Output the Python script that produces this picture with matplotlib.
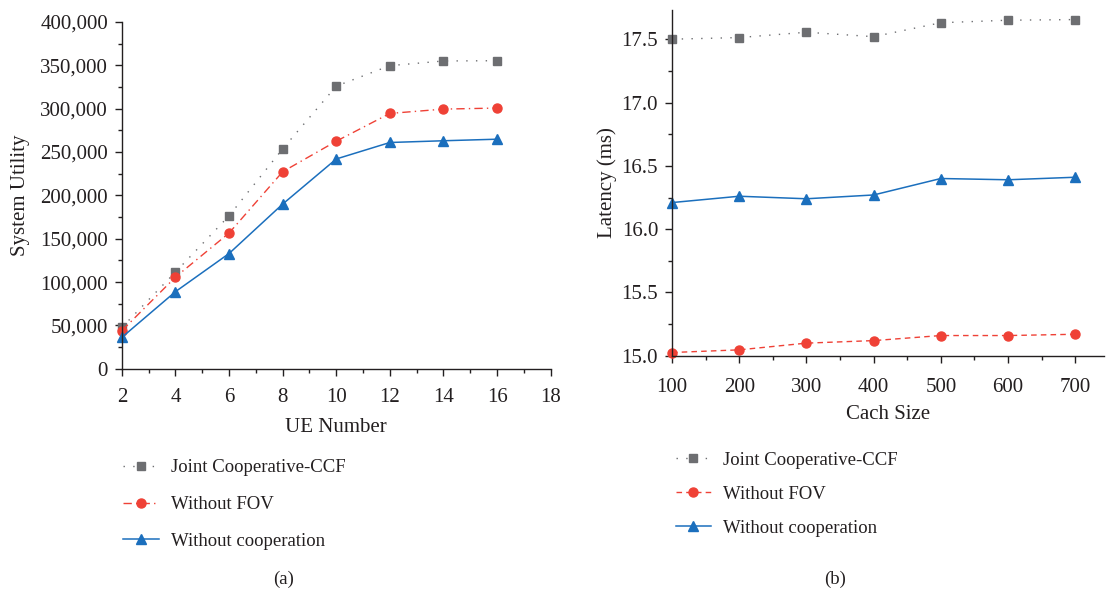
import matplotlib
matplotlib.use("Agg")
import matplotlib.pyplot as plt
from matplotlib.ticker import MultipleLocator, FuncFormatter

plt.rcParams['font.family'] = ['Liberation Serif', 'DejaVu Serif']

# Data (a)
ue_number = [2, 4, 6, 8, 10, 12, 14, 16]
util_joint = [47800, 111600, 176500, 253700, 326000, 349600, 355000, 355300]
util_nofov = [44000, 105800, 156600, 227300, 262500, 294500, 299500, 300700]
util_nocoop = [36300, 89000, 133000, 190000, 242000, 261000, 263000, 264800]

# Data (b)
cache_size = [100, 200, 300, 400, 500, 600, 700]
lat_joint = [17.50, 17.513, 17.555, 17.52, 17.63, 17.65, 17.655]
lat_nofov = [15.026, 15.047, 15.10, 15.12, 15.16, 15.16, 15.17]
lat_nocoop = [16.21, 16.26, 16.24, 16.27, 16.40, 16.39, 16.41]

labels = ["Joint Cooperative-CCF", "Without FOV", "Without cooperation"]

GRAY = "#6d6e71"
RED = "#ef4136"
BLUE = "#1b6fbd"
TXT = "#231f20"

TICK_FS = 15
LABEL_FS = 15
LEG_FS = 13.5

fig = plt.figure(figsize=(11.08, 5.93), dpi=100)

def style(ax, xpad):
    for s in ("top", "right"):
        ax.spines[s].set_visible(False)
    for s in ("left", "bottom"):
        ax.spines[s].set_color(TXT)
        ax.spines[s].set_linewidth(1.0)
    ax.tick_params(which="major", direction="out", length=5, width=1, colors=TXT, labelsize=TICK_FS, pad=5)
    ax.tick_params(axis="x", which="major", pad=xpad)
    ax.tick_params(which="minor", direction="out", length=3, width=1, colors=TXT)

# (a)
ax1 = fig.add_axes([0.110, 0.378, 0.387, 0.585])
l1, = ax1.plot(ue_number, util_joint, color=GRAY, ls=(0, (1, 6)), lw=1.0, marker="s", ms=6.3, mec=GRAY, mfc=GRAY)
l2, = ax1.plot(ue_number, util_nofov, color=RED, ls=(0, (6, 3, 1, 3)), lw=1.0, marker="o", ms=6.5, mec=RED, mfc=RED)
l3, = ax1.plot(ue_number, util_nocoop, color=BLUE, ls="-", lw=1.1, marker="^", ms=7.5, mec=BLUE, mfc=BLUE)
ax1.set_xlim(2, 18)
ax1.set_ylim(0, 400000)
ax1.xaxis.set_major_locator(MultipleLocator(2))
ax1.xaxis.set_minor_locator(MultipleLocator(1))
ax1.yaxis.set_major_locator(MultipleLocator(50000))
ax1.yaxis.set_minor_locator(MultipleLocator(25000))
ax1.yaxis.set_major_formatter(FuncFormatter(lambda v, p: f"{int(v):,}"))
style(ax1, 9)
for l in (l1, l2, l3):
    l.set_clip_on(False)
ax1.set_xlabel("UE Number", fontsize=LABEL_FS, color=TXT, labelpad=8)
ax1.set_ylabel("System Utility", fontsize=LABEL_FS, color=TXT, labelpad=7)
fig.legend([l1, l2, l3], labels, loc="upper left", bbox_to_anchor=(0.096, 0.254), frameon=False,
           fontsize=LEG_FS, handlelength=1.9, labelspacing=1.05, handletextpad=0.65, labelcolor=TXT)
fig.text(0.256, 0.016, "(a)", fontsize=LEG_FS, color=TXT, ha="center")

# (b)
ax2 = fig.add_axes([0.6065, 0.400, 0.390, 0.583])
m1, = ax2.plot(cache_size, lat_joint, color=GRAY, ls=(0, (1, 6)), lw=1.0, marker="s", ms=6.3, mec=GRAY, mfc=GRAY)
m2, = ax2.plot(cache_size, lat_nofov, color=RED, ls=(0, (4, 3)), lw=1.0, marker="o", ms=6.5, mec=RED, mfc=RED)
m3, = ax2.plot(cache_size, lat_nocoop, color=BLUE, ls="-", lw=1.1, marker="^", ms=7.5, mec=BLUE, mfc=BLUE)
ax2.set_xlim(100, 743)
ax2.set_ylim(15.0, 17.73)
ax2.xaxis.set_major_locator(MultipleLocator(100))
ax2.xaxis.set_minor_locator(MultipleLocator(50))
ax2.yaxis.set_major_locator(MultipleLocator(0.5))
ax2.yaxis.set_minor_locator(MultipleLocator(0.25))
ax2.yaxis.set_major_formatter(FuncFormatter(lambda v, p: f"{v:.1f}"))
style(ax2, 11)
for l in (m1, m2, m3):
    l.set_clip_on(False)
ax2.set_xlabel("Cach Size", fontsize=LABEL_FS, color=TXT, labelpad=6)
ax2.set_ylabel("Latency (ms)", fontsize=LABEL_FS, color=TXT, labelpad=3)
fig.legend([m1, m2, m3], labels, loc="upper left", bbox_to_anchor=(0.5945, 0.267), frameon=False,
           fontsize=LEG_FS, handlelength=1.9, labelspacing=0.9, handletextpad=0.65, labelcolor=TXT)
fig.text(0.754, 0.016, "(b)", fontsize=LEG_FS, color=TXT, ha="center")

fig.savefig("out.png", dpi=100)
